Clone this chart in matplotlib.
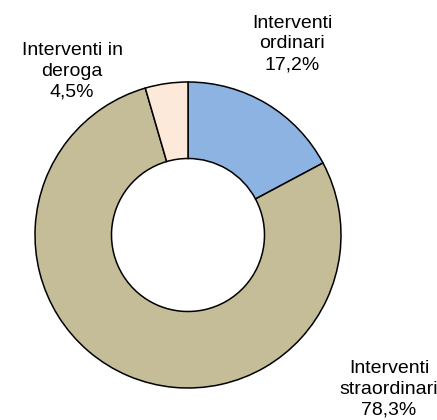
import matplotlib
matplotlib.use("Agg")
import matplotlib.pyplot as plt

categories = ["Interventi\nordinari", "Interventi\nstraordinari", "Interventi in\nderoga"]
values = [17.2, 78.3, 4.5]
value_labels = ["17,2%", "78,3%", "4,5%"]
colors = ["#8DB3E2", "#C4BD97", "#FDE9D9"]

plt.rcParams['font.family'] = ['Liberation Sans', 'DejaVu Sans']

W, H = 437, 420
fig = plt.figure(figsize=(W / 100, H / 100), dpi=100)
ax = fig.add_axes([0, 0, 1, 1])

cx, cy, R = 188, H - 235, 153
ax.pie(values, colors=colors, startangle=90, counterclock=False,
       center=(cx, cy), radius=R, frame=True,
       wedgeprops=dict(width=R * 0.5, edgecolor='black', linewidth=1.1))
ax.set_xlim(0, W)
ax.set_ylim(0, H)
ax.set_aspect('equal')
ax.axis('off')

label_pos = [(292, H - 44), (389, H - 389), (72, H - 71)]
for cat, vl, (x, y) in zip(categories, value_labels, label_pos):
    ax.text(x, y, f"{cat}\n{vl}", ha='center', va='center', fontsize=14,
            linespacing=1.3, color='black')

fig.savefig("out.png", dpi=100)
